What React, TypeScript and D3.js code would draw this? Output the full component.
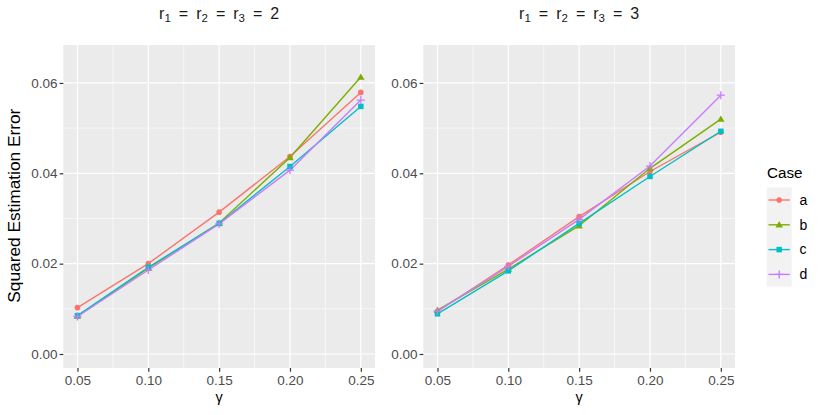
import * as d3 from "d3";
import { useEffect, useRef } from "react";

const gammas = [0.05, 0.1, 0.15, 0.2, 0.25];
const cases = ["a", "b", "c", "d"];

// r1 = r2 = r3 = 2
const errR2A = [0.01025, 0.02, 0.0314, 0.0437, 0.0579];
const errR2B = [0.0084, 0.019, 0.029, 0.0435, 0.0613];
const errR2C = [0.0085, 0.0192, 0.0289, 0.0415, 0.0548];
const errR2D = [0.0083, 0.0186, 0.0288, 0.0407, 0.0562];

// r1 = r2 = r3 = 3
const errR3A = [0.0094, 0.0197, 0.0304, 0.0404, 0.0491];
const errR3B = [0.0097, 0.0188, 0.0284, 0.0411, 0.052];
const errR3C = [0.0089, 0.0184, 0.0289, 0.0393, 0.0493];
const errR3D = [0.0095, 0.0194, 0.0298, 0.0416, 0.0573];

const panelRanks = ["2", "3"];
const panelSeries = [
  [errR2A, errR2B, errR2C, errR2D],
  [errR3A, errR3B, errR3C, errR3D],
];

const xTicks = [0.05, 0.1, 0.15, 0.2, 0.25];
const xMinor = [0.075, 0.125, 0.175, 0.225];
const yTicks = [0, 0.02, 0.04, 0.06];
const yMinor = [0.01, 0.03, 0.05];

const caseColors: Record<string, string> = {
  a: "#F8766D",
  b: "#7CAE00",
  c: "#00BFC4",
  d: "#C77CFF",
};

const font = "'Liberation Sans', Arial, Helvetica, sans-serif";
const width = 830;
const height = 415;
const panelTop = 45;
const panelBottom = 368;
const panelsX: [number, number][] = [
  [63.3, 375],
  [423.3, 735],
];

function drawShape(g: d3.Selection<SVGGElement, unknown, null, undefined>, kind: string, x: number, y: number) {
  const color = caseColors[kind];
  if (kind === "d") {
    g.append("path")
      .attr("d", `M${x - 4},${y}H${x + 4}M${x},${y - 4}V${y + 4}`)
      .attr("stroke", color)
      .attr("stroke-width", 1.3)
      .attr("fill", "none");
    return;
  }
  const symbolType = kind === "a" ? d3.symbolCircle : kind === "b" ? d3.symbolTriangle : d3.symbolSquare;
  const size = kind === "a" ? 25 : kind === "b" ? 24 : 30;
  g.append("path")
    .attr("d", d3.symbol().type(symbolType).size(size)())
    .attr("transform", `translate(${x},${y + (kind === "b" ? 0.6 : 0)})`)
    .attr("fill", color);
}

export default function App() {
  const svgRef = useRef<SVGSVGElement>(null);

  useEffect(() => {
    if (!svgRef.current) return;
    const svg = d3.select(svgRef.current);
    svg.selectAll("*").remove();

    svg.append("rect").attr("width", width).attr("height", height).attr("fill", "#ffffff");

    const yScale = d3.scaleLinear().domain([-0.0031, 0.0684]).range([panelBottom, panelTop]);

    panelsX.forEach(([left, right], p) => {
      const xScale = d3.scaleLinear().domain([0.04, 0.26]).range([left, right]);
      const g = svg.append("g");

      g.append("rect")
        .attr("x", left)
        .attr("y", panelTop)
        .attr("width", right - left)
        .attr("height", panelBottom - panelTop)
        .attr("fill", "#EBEBEB");

      // minor then major grid
      yMinor.forEach((v) => {
        g.append("line").attr("x1", left).attr("x2", right)
          .attr("y1", yScale(v)).attr("y2", yScale(v))
          .attr("stroke", "#fff").attr("stroke-width", 0.6);
      });
      xMinor.forEach((v) => {
        g.append("line").attr("x1", xScale(v)).attr("x2", xScale(v))
          .attr("y1", panelTop).attr("y2", panelBottom)
          .attr("stroke", "#fff").attr("stroke-width", 0.6);
      });
      yTicks.forEach((v) => {
        g.append("line").attr("x1", left).attr("x2", right)
          .attr("y1", yScale(v)).attr("y2", yScale(v))
          .attr("stroke", "#fff").attr("stroke-width", 1.2);
      });
      xTicks.forEach((v) => {
        g.append("line").attr("x1", xScale(v)).attr("x2", xScale(v))
          .attr("y1", panelTop).attr("y2", panelBottom)
          .attr("stroke", "#fff").attr("stroke-width", 1.2);
      });

      const line = d3.line<number>()
        .x((_, i) => xScale(gammas[i]))
        .y((d) => yScale(d));

      panelSeries[p].forEach((values, k) => {
        g.append("path")
          .attr("d", line(values))
          .attr("fill", "none")
          .attr("stroke", caseColors[cases[k]])
          .attr("stroke-width", 1.4);
      });
      panelSeries[p].forEach((values, k) => {
        values.forEach((v, i) => drawShape(g, cases[k], xScale(gammas[i]), yScale(v)));
      });

      // axes
      const yAxis = g.append("g")
        .attr("transform", `translate(${left},0)`)
        .call(d3.axisLeft(yScale).tickValues(yTicks).tickFormat(d3.format(".2f")).tickSize(3.7).tickPadding(2.2));
      const xAxis = g.append("g")
        .attr("transform", `translate(0,${panelBottom})`)
        .call(d3.axisBottom(xScale).tickValues(xTicks).tickFormat(d3.format(".2f")).tickSize(3.7).tickPadding(4.2));
      [yAxis, xAxis].forEach((ax) => {
        ax.select(".domain").remove();
        ax.selectAll(".tick line").attr("stroke", "#333333").attr("stroke-width", 1.2);
        ax.selectAll(".tick text")
          .attr("fill", "#4D4D4D")
          .attr("font-size", 13.5)
          .attr("font-family", font);
      });

      // strip title r1 = r2 = r3 = k
      const title = g.append("text")
        .attr("x", (left + right) / 2)
        .attr("y", 18.5)
        .attr("text-anchor", "middle")
        .attr("font-family", font)
        .attr("font-size", 16)
        .attr("fill", "#1A1A1A");
      [1, 2, 3].forEach((n) => {
        title.append("tspan").text("r");
        title.append("tspan").attr("font-size", 11.5).attr("dy", 3).text(String(n));
        title.append("tspan").attr("dy", -3).text("\u2002=\u2002");
      });
      title.append("tspan").text(panelRanks[p]);

      g.append("text")
        .attr("x", (left + right) / 2)
        .attr("y", 401.5)
        .attr("text-anchor", "middle")
        .attr("font-family", font)
        .attr("font-size", 14.5)
        .text("\u03B3");
    });

    svg.append("text")
      .attr("transform", `translate(19.5,205.7) rotate(-90)`)
      .attr("text-anchor", "middle")
      .attr("font-family", font)
      .attr("font-size", 17.3)
      .text("Squared Estimation Error");

    // legend
    const legend = svg.append("g");
    legend.append("text")
      .attr("x", 767)
      .attr("y", 178)
      .attr("font-family", font)
      .attr("font-size", 15.2)
      .text("Case");
    legend.append("rect")
      .attr("x", 766.7)
      .attr("y", 187.3)
      .attr("width", 25)
      .attr("height", 99.4)
      .attr("fill", "#F2F2F2");
    cases.forEach((c, i) => {
      const cy = 200 + i * 24.8;
      legend.append("line")
        .attr("x1", 768.5).attr("x2", 789.8)
        .attr("y1", cy).attr("y2", cy)
        .attr("stroke", caseColors[c]).attr("stroke-width", 1.4);
      drawShape(legend, c, 779.2, cy);
      legend.append("text")
        .attr("x", 799.5)
        .attr("y", cy + 4.8)
        .attr("font-family", font)
        .attr("font-size", 14)
        .text(c);
    });
  }, []);

  return (
    <div style={{ position: "absolute", left: 0, top: 0, width, height }}>
      <svg ref={svgRef} width={width} height={height} style={{ display: "block" }}></svg>
    </div>
  );
}
